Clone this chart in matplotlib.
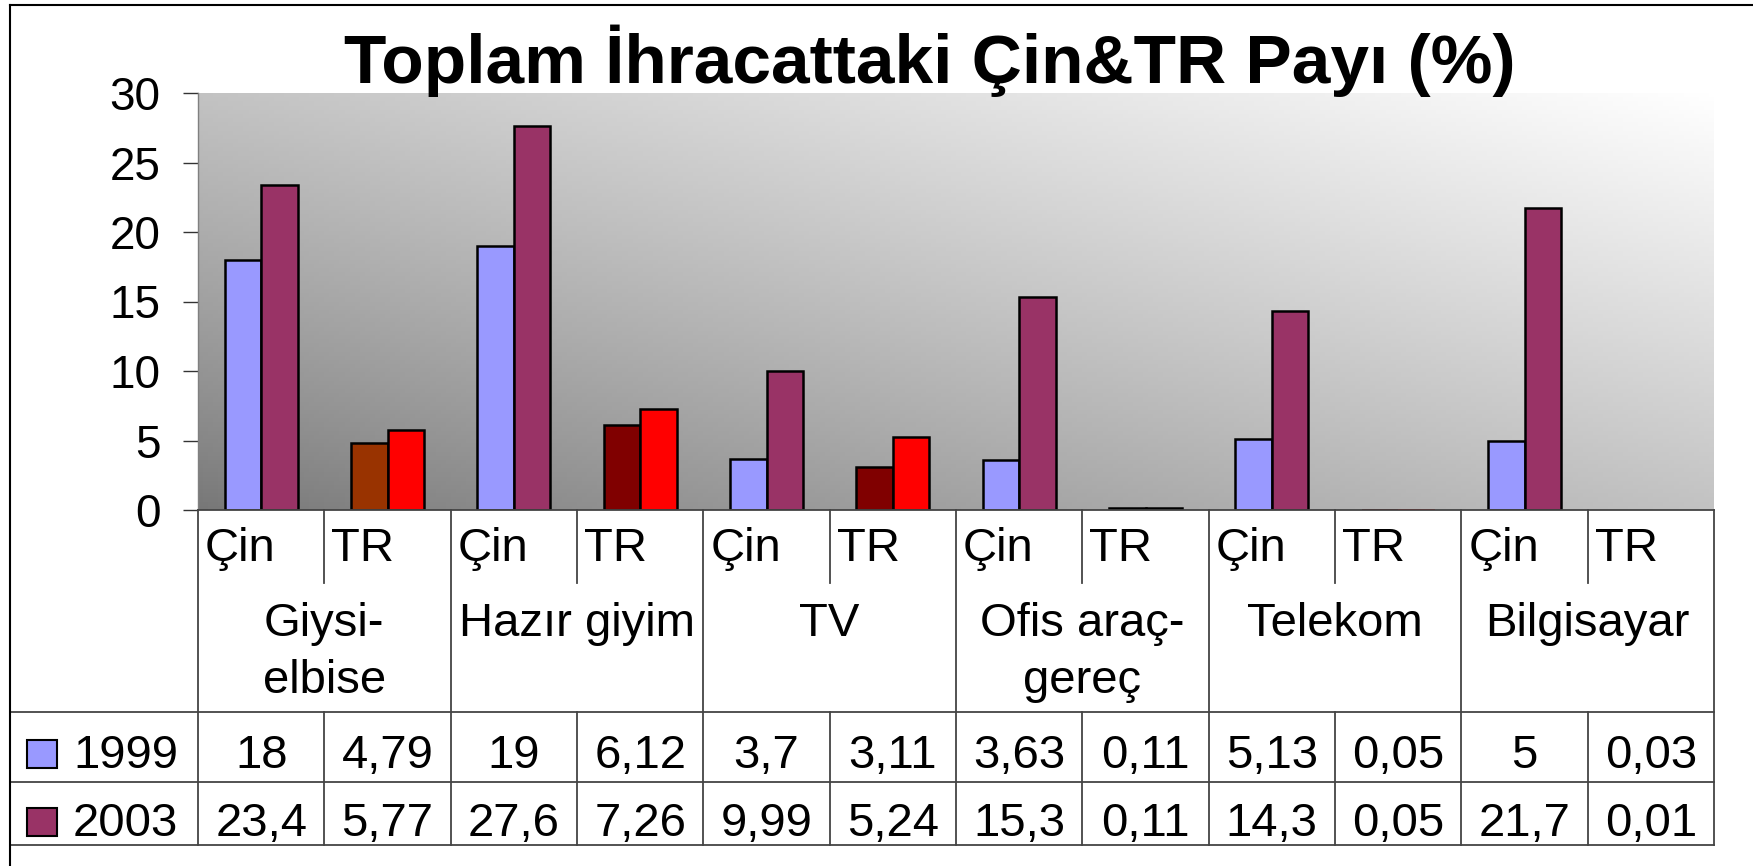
import numpy as np
import matplotlib
matplotlib.use('Agg')
import matplotlib.pyplot as plt
from matplotlib.patches import Rectangle
from matplotlib.lines import Line2D

# ---------------- data ----------------
title = 'Toplam İhracattaki Çin&TR Payı (%)'
categories = ['Giysi-\nelbise', 'Hazır giyim', 'TV', 'Ofis araç-\ngereç', 'Telekom', 'Bilgisayar']
countries = ['Çin', 'TR']
years = ['1999', '2003']
cin_1999 = [18, 19, 3.7, 3.63, 5.13, 5]
cin_2003 = [23.4, 27.6, 9.99, 15.3, 14.3, 21.7]
tr_1999 = [4.79, 6.12, 3.11, 0.11, 0.05, 0.03]
tr_2003 = [5.77, 7.26, 5.24, 0.11, 0.05, 0.01]
yticks = [0, 5, 10, 15, 20, 25, 30]

# colours
cin_colors = {'1999': '#9999FF', '2003': '#993366'}
tr_colors_1999 = ['#993300', '#800000', '#800000', '#800000', '#800000', '#800000']
tr_colors_2003 = ['#FF0000'] * 6

plt.rcParams['font.family'] = ['Liberation Sans', 'DejaVu Sans']

W, H = 1753, 866
fig = plt.figure(figsize=(W / 100, H / 100), dpi=100)
fig.patch.set_facecolor('white')

L, R, T, B = 198, 1714, 93, 510
slot_w = (R - L) / 12.0
ax = fig.add_axes([L / W, 1 - B / H, (R - L) / W, (B - T) / H])

# interleave Çin / TR slots
v1999, v2003, c1999, c2003 = [], [], [], []
for g in range(len(categories)):
    v1999 += [cin_1999[g], tr_1999[g]]
    v2003 += [cin_2003[g], tr_2003[g]]
    c1999 += [cin_colors['1999'], tr_colors_1999[g]]
    c2003 += [cin_colors['2003'], tr_colors_2003[g]]
slots = np.arange(len(v1999))

# gradient background
nx, ny = 300, 100
xx, yy = np.meshgrid(np.linspace(0, 1, nx), np.linspace(0, 1, ny))
u = (xx + yy) / 2.0
val = (119 + 136 * u ** 0.85) / 255.0
img = np.dstack([val, val, val])
ax.imshow(img, extent=(-0.5, 11.5, 0, 30), origin='lower', aspect='auto', zorder=0)

bw = 0.29
for vals, cols, off in [(v1999, c1999, -bw / 2), (v2003, c2003, bw / 2)]:
    for i, (v, c) in enumerate(zip(vals, cols)):
        lw = 1.8 if v >= 0.1 else 0
        ax.bar(i + off, v, width=bw, color=c, edgecolor='black', linewidth=lw, zorder=2)

ax.set_xlim(-0.5, 11.5)
ax.set_ylim(0, 30)
ax.set_yticks(yticks)
ax.set_yticklabels([str(t) for t in yticks], fontsize=33)
ax.set_xticks([])
ax.tick_params(axis='y', direction='out', length=11, width=1, color='#333333', pad=16)
for s in ['top', 'right', 'bottom']:
    ax.spines[s].set_visible(False)
ax.spines['left'].set_color('#808080')
ax.spines['left'].set_linewidth(1)

# ---------------- data table ----------------
TB = 845
tab = fig.add_axes([L / W, 1 - TB / H, (R - L) / W, (TB - B) / H])
tab.set_xlim(-0.5, 11.5)
tab.set_ylim(TB - B, 0)
tab.axis('off')


def px2x(px):
    return -0.5 + (px - L) / slot_w


lc = '#444444'
lkw = dict(color=lc, linewidth=1.3, clip_on=False)
tab.plot([-0.5, 11.5], [0, 0], **lkw)
for yl in [202, 272, TB - B]:
    tab.plot([px2x(11), 11.5], [yl, yl], **lkw)
tab.plot([-0.5, -0.5], [0, TB - B], **lkw)
for g in range(len(categories)):
    xb = 2 * g + 1.5
    tab.plot([xb, xb], [0, TB - B], **lkw)
    xi = 2 * g + 0.5
    tab.plot([xi, xi], [0, 73], **lkw)
    tab.plot([xi, xi], [202, TB - B], **lkw)

fs = 34
for i in slots:
    tab.text(i - 0.5 + 7 / slot_w, 51, countries[i % 2], ha='left', va='baseline', fontsize=fs)
for g, cat in enumerate(categories):
    for k, line in enumerate(cat.split('\n')):
        tab.text(2 * g + 0.5, 126 + 57 * k, line, ha='center', va='baseline', fontsize=fs)


def fmt(v):
    return f'{v:g}'.replace('.', ',')


for i in slots:
    tab.text(i, 258, fmt(v1999[i]), ha='center', va='baseline', fontsize=fs)
    tab.text(i, 326, fmt(v2003[i]), ha='center', va='baseline', fontsize=fs)

for yr, base in zip(years, [258, 326]):
    x0 = px2x(27)
    tab.add_patch(Rectangle((x0, base - 28), 30 / slot_w, 28, facecolor=cin_colors[yr],
                            edgecolor='black', linewidth=1.5, clip_on=False))
    tab.text(px2x(73), base, yr, ha='left', va='baseline', fontsize=fs)

# ---------------- title & frame ----------------
fig.text(930 / W, 1 - 83 / H, title, ha='center', va='baseline', fontsize=50, fontweight='bold')
fig.add_artist(Line2D([10 / W, 10 / W], [0, 1 - 5 / H], transform=fig.transFigure, color='black', lw=1.5))
fig.add_artist(Line2D([10 / W, 1], [1 - 5 / H, 1 - 5 / H], transform=fig.transFigure, color='black', lw=1.5))

fig.savefig('out.png', dpi=100)
